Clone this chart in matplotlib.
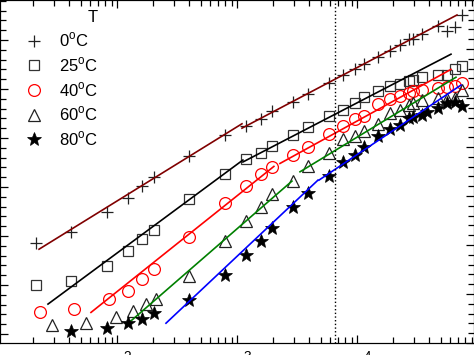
import numpy as np
import matplotlib
matplotlib.use('Agg')
import matplotlib.pyplot as plt
from matplotlib.ticker import MultipleLocator, NullFormatter

plt.rcParams['font.family'] = ['Liberation Sans', 'DejaVu Sans']
plt.rcParams['mathtext.fontset'] = 'custom'
plt.rcParams['mathtext.rm'] = 'Liberation Sans'

# 数据 (频率, 纵轴值)
f_0 = [21, 41, 83, 123, 162, 203, 400, 794, 1190, 1570, 1960, 2930, 3940, 5850,
       7650, 9620, 11500, 15000, 18800, 22800, 27000, 29300, 35000, 47500, 56200, 65600, 75000]
y_0 = [1.86, 2.08, 2.49, 2.78, 3.02, 3.20, 3.63, 4.06, 4.24, 4.39, 4.55, 4.74, 4.89, 5.13,
       5.29, 5.40, 5.51, 5.66, 5.78, 5.90, 6.01, 6.03, 6.12, 6.29, 6.19, 6.27, 6.50]

f_25 = [21, 41, 83, 123, 162, 203, 400, 794, 1190, 1570, 1960, 2930, 3940, 5850,
        7650, 9620, 11500, 15000, 18800, 22800, 27000, 29300, 35000, 47500, 56200, 65600, 75000]
y_25 = [0.99, 1.09, 1.39, 1.69, 1.93, 2.13, 2.76, 3.27, 3.57, 3.69, 3.84, 4.07, 4.23, 4.45,
        4.58, 4.71, 4.83, 4.95, 5.06, 5.10, 5.16, 5.18, 5.24, 5.29, 5.29, 5.41, 5.46]

f_40 = [23, 44, 85, 123, 162, 203, 400, 794, 1190, 1570, 1960, 2930, 3940, 5850,
        7650, 9620, 11500, 15000, 18800, 22800, 27000, 29300, 35000, 47500, 56200, 65600, 75000]
y_40 = [0.44, 0.50, 0.71, 0.88, 1.12, 1.33, 1.97, 2.68, 3.01, 3.27, 3.41, 3.66, 3.82, 4.08,
        4.24, 4.38, 4.45, 4.69, 4.80, 4.86, 4.92, 4.95, 4.98, 5.01, 5.04, 5.07, 5.12]

f_60 = [29, 55, 98, 137, 174, 211, 400, 794, 1190, 1570, 1960, 2930, 3940, 5850,
        7650, 9620, 11500, 15000, 18800, 22800, 27000, 29300, 35000, 47500, 56200, 65600, 75000]
y_60 = [0.18, 0.23, 0.35, 0.46, 0.61, 0.71, 1.18, 1.90, 2.31, 2.60, 2.86, 3.12, 3.42, 3.70,
        3.98, 4.04, 4.15, 4.29, 4.50, 4.57, 4.67, 4.71, 4.78, 4.81, 4.79, 4.81, 4.97]

f_80 = [41, 83, 123, 162, 203, 400, 794, 1190, 1570, 1960, 2930, 3940, 5850, 7650,
        9620, 11500, 15000, 18800, 22800, 27000, 29300, 35000, 38100, 47500, 56200, 65600, 75000]
y_80 = [0.06, 0.13, 0.22, 0.31, 0.42, 0.69, 1.20, 1.61, 1.90, 2.17, 2.60, 2.87, 3.22, 3.50,
        3.65, 3.82, 4.04, 4.18, 4.27, 4.40, 4.42, 4.47, 4.54, 4.61, 4.72, 4.74, 4.65]

# 拟合直线 (两段)
fit_0 = [([22.4, 1100], [1.73, 4.29]), ([1100, 68100], [4.20, 6.51])]
fit_25 = [([26.6, 1120], [0.61, 3.55]), ([1120, 60700], [3.51, 5.71])]
fit_40 = [([60.7, 2030], [0.44, 3.42]), ([2280, 60700], [3.48, 5.40])]
fit_60 = [([119, 2870], [0.18, 3.12]), ([3350, 66800], [3.31, 5.24])]
fit_80 = [([256, 4730], [0.22, 3.14]), ([4820, 73600], [3.14, 5.08])]

labels = ['0$^{\\rm o}$C', '25$^{\\rm o}$C', '40$^{\\rm o}$C', '60$^{\\rm o}$C', '80$^{\\rm o}$C']
f_cross = 6560


def main():
    fig = plt.figure(figsize=(4.74, 3.55), dpi=100)
    ax = fig.add_axes([0.0, 12 / 355, 1.0, 343 / 355])

    series = [
        (f_0, y_0, fit_0, dict(marker='+', color='#222222', ms=9, mew=0.9, ls='none'), '#800000'),
        (f_25, y_25, fit_25, dict(marker='s', mfc='none', mec='#333333', ms=7.5, mew=0.9, ls='none'), 'black'),
        (f_40, y_40, fit_40, dict(marker='o', mfc='none', mec='#ff0000', ms=8.5, mew=0.9, ls='none'), '#ff0000'),
        (f_60, y_60, fit_60, dict(marker='^', mfc='none', mec='#222222', ms=8.5, mew=0.9, ls='none'), '#008000'),
        (f_80, y_80, fit_80, dict(marker='*', mfc='black', mec='black', ms=10, mew=0.5, ls='none'), '#0000ff'),
    ]

    for (fx, fy, fit, mstyle, lc), lab in zip(series, labels):
        ax.plot(fx, fy, label=lab, **mstyle)
        for sx, sy in fit:
            ax.plot(sx, sy, color=lc, lw=1.2)

    ax.axvline(f_cross, color='black', ls=':', lw=1.0)

    ax.set_xscale('log')
    ax.set_xlim(10 ** 1.025, 10 ** (1.025 + 474 / 120))
    ax.set_ylim(-0.184, 6.816)
    ax.yaxis.set_major_locator(MultipleLocator(1))
    ax.yaxis.set_minor_locator(MultipleLocator(0.2))
    ax.tick_params(which='both', direction='in', top=True, labelleft=False, labelsize=14)
    ax.tick_params(which='major', length=6, width=0.9)
    ax.tick_params(which='minor', length=4, width=0.9)
    # 横轴刻度标签大部分在图外, 只露出上标
    ax.tick_params(axis='x', which='major', pad=5.5)

    # 右侧刻度
    ax2 = ax.twinx()
    ax2.set_ylim(0, 7)
    ax2.yaxis.set_major_locator(MultipleLocator(1))
    ax2.yaxis.set_minor_locator(MultipleLocator(0.2))
    ax2.yaxis.set_major_formatter(NullFormatter())
    ax2.tick_params(which='both', direction='in', labelright=False)
    ax2.tick_params(which='major', length=6, width=0.9)
    ax2.tick_params(which='minor', length=4, width=0.9)

    ax.legend(loc='upper left', bbox_to_anchor=(0.036, 0.991), borderaxespad=0,
              frameon=False, title='T', title_fontsize=12, fontsize=12,
              alignment='right', handlelength=1.2, handletextpad=0.9,
              labelspacing=0.36)

    fig.savefig('out.png', dpi=100)


if __name__ == "__main__":
    main()
